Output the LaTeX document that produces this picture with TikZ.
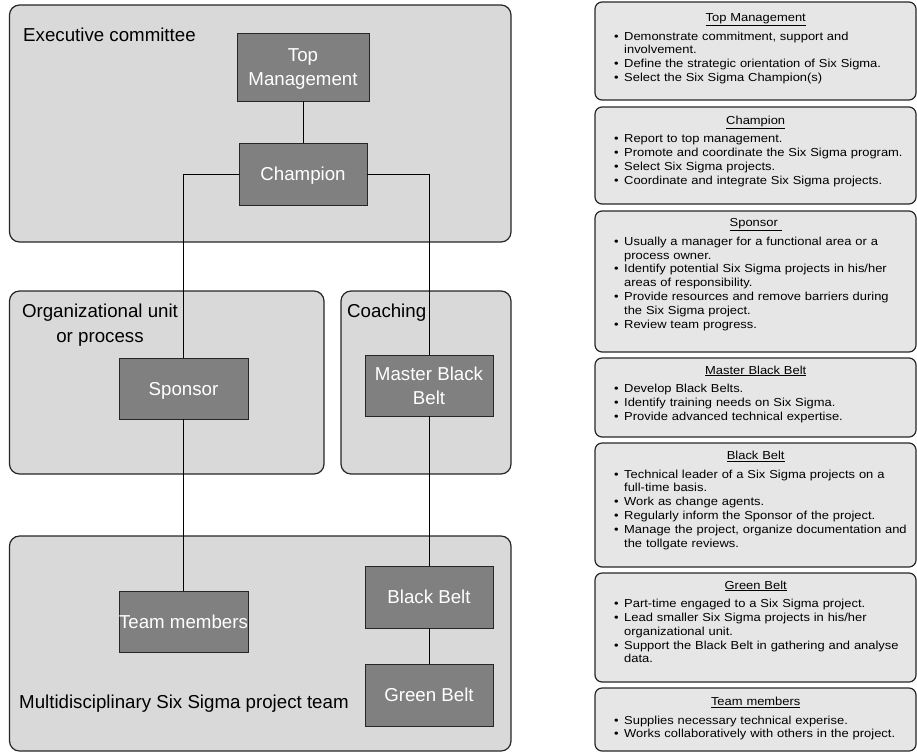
\documentclass[tikz,border=0pt]{standalone}
\usepackage{fontspec}
\setmainfont{Liberation Sans}
\newfontfamily\panelfont[FakeStretch=1.115]{Liberation Sans}
\definecolor{groupfill}{HTML}{D9D9D9}
\definecolor{panelfill}{HTML}{E6E6E6}
\definecolor{rolefill}{HTML}{808080}
\definecolor{edgegray}{HTML}{262626}
\newcommand{\paneltitle}[1]{\centering\underline{#1}\par\vspace{4.7pt}\raggedright}
\newcommand{\bul}{\par\hangindent=24pt\hangafter=1\noindent\hspace*{14pt}\makebox[10pt][l]{\textbullet}}
\tikzset{
  groupbox/.style={draw=edgegray, line width=1.2pt, fill=groupfill, rounded corners=10pt},
  panelbox/.style={draw=edgegray, line width=1.2pt, fill=panelfill, rounded corners=7pt},
  role/.style={draw=edgegray, line width=0.8pt, fill=rolefill, text=white, align=center,
    font=\fontsize{18.7}{24.5}\selectfont, inner sep=0pt, text depth=0pt},
  grouplabel/.style={font=\fontsize{18.7}{24.5}\selectfont, inner sep=0pt},
  paneltext/.style={anchor=north west, text width=311pt, inner sep=0pt,
    font=\panelfont\fontsize{11.6}{13.8}\selectfont},
  link/.style={line width=0.9pt}
}
\begin{document}
\begin{tikzpicture}[x=1pt, y=-1pt]
  \useasboundingbox (0,0) rectangle (917,753);
  % groups on the left
  \draw [groupbox] (9.5,5) rectangle (511,242);
  \draw [groupbox] (9.5,291) rectangle (324,474);
  \draw [groupbox] (341,291) rectangle (511,474);
  \draw [groupbox] (9.5,536) rectangle (511,751);
  \node [grouplabel, anchor=base west] (execlabel) at (23,41) {Executive committee};
  \node [grouplabel, anchor=base, align=center] (unitlabel) at (100,342) {Organizational unit\\or process};
  \node [grouplabel, anchor=base west] (coachlabel) at (347,317) {Coaching};
  \node [grouplabel, anchor=base west] (teamlabel) at (19,708) {Multidisciplinary Six Sigma project team};
  % roles
  \node [role, minimum width=132pt, minimum height=68pt] (top) at (303,67) {Top\\Management};
  \node [role, minimum width=128pt, minimum height=62pt] (champ) at (303,174) {Champion};
  \node [role, minimum width=129pt, minimum height=61pt] (sponsor) at (183.5,388.5) {Sponsor};
  \node [role, minimum width=128pt, minimum height=61pt] (mbb) at (429,385.5) {Master Black\\Belt};
  \node [role, minimum width=129pt, minimum height=61pt] (members) at (183.5,621.5) {Team members};
  \node [role, minimum width=128pt, minimum height=62pt] (bb) at (429,597) {Black Belt};
  \node [role, minimum width=128pt, minimum height=62pt] (gb) at (429,695) {Green Belt};
  \draw [link] (top) -- (champ);
  \draw [link] (champ.west) -| (sponsor.north);
  \draw [link] (champ.east) -| (mbb.north);
  \draw [link] (sponsor) -- (members);
  \draw [link] (mbb) -- (bb);
  \draw [link] (bb) -- (gb);
  % role descriptions on the right
  \draw [panelbox] (595,2) rectangle (916,100);
  \node [paneltext] (topnotes) at (600,13.5) {\paneltitle{Top Management}
    \bul Demonstrate commitment, support and\newline involvement.
    \bul Define the strategic orientation of Six Sigma.
    \bul Select the Six Sigma Champion(s)\par};
  \draw [panelbox] (595,107) rectangle (916,204);
  \node [paneltext] (champnotes) at (600,115.5) {\paneltitle{Champion}
    \bul Report to top management.
    \bul Promote and coordinate the Six Sigma program.
    \bul Select Six Sigma projects.
    \bul Coordinate and integrate Six Sigma projects.\par};
  \draw [panelbox] (595,211) rectangle (916,352);
  \node [paneltext] (sponsornotes) at (600,218.5) {\paneltitle{Sponsor\ }
    \bul Usually a manager for a functional area or a\newline process owner.
    \bul Identify potential Six Sigma projects in his/her\newline areas of responsibility.
    \bul Provide resources and remove barriers during\newline the Six Sigma project.
    \bul Review team progress.\par};
  \draw [panelbox] (595,358) rectangle (916,437);
  \node [paneltext] (mbbnotes) at (600,365.5) {\paneltitle{Master Black Belt}
    \bul Develop Black Belts.
    \bul Identify training needs on Six Sigma.
    \bul Provide advanced technical expertise.\par};
  \draw [panelbox] (595,443) rectangle (916,567);
  \node [paneltext] (bbnotes) at (600,451) {\paneltitle{Black Belt}
    \bul Technical leader of a Six Sigma projects on a\newline full-time basis.
    \bul Work as change agents.
    \bul Regularly inform the Sponsor of the project.
    \bul Manage the project, organize documentation and\newline the tollgate reviews.\par};
  \draw [panelbox] (595,573) rectangle (916,682);
  \node [paneltext] (gbnotes) at (600,580.5) {\paneltitle{Green Belt}
    \bul Part-time engaged to a Six Sigma project.
    \bul Lead smaller Six Sigma projects in his/her\newline organizational unit.
    \bul Support the Black Belt in gathering and analyse\newline data.\par};
  \draw [panelbox] (595,688) rectangle (916,751);
  \node [paneltext] (membernotes) at (600,697) {\paneltitle{Team members}
    \bul Supplies necessary technical experise.
    \bul Works collaboratively with others in the project.\par};
\end{tikzpicture}
\end{document}
